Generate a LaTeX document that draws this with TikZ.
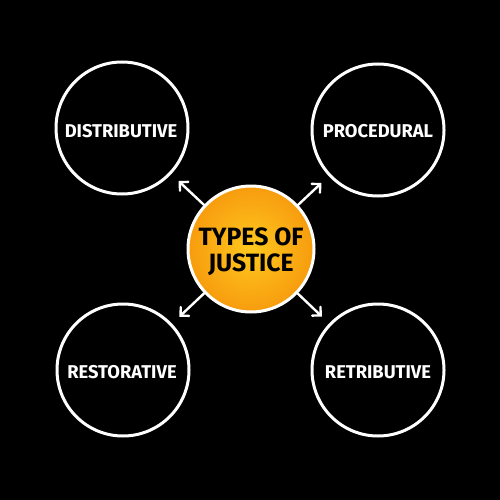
\documentclass[tikz,border=0pt]{standalone}
\usepackage{fontspec}
\setmainfont{Fira Sans}
\usetikzlibrary{arrows.meta,shadings}
\definecolor{orin}{RGB}{255,200,30}
\definecolor{orout}{RGB}{247,156,14}
\newcommand{\lbl}[1]{\scalebox{0.99}[1]{\bfseries #1}}
\tikzset{
  ring/.style={circle, draw=white, line width=3pt, minimum size=132pt, inner sep=0pt},
  ringtext/.style={text=white, inner sep=0pt, font=\fontsize{18.5}{20}\selectfont},
  hub/.style={circle, draw=white, line width=3pt, minimum size=126pt, inner sep=0pt, inner color=orin, outer color=orout},
  hubtext/.style={text=black, align=center, font=\fontsize{25}{26}\selectfont, inner sep=0pt},
  arr/.style={draw=white, line width=2.4pt, line cap=round, -{Straight Barb[length=6pt,width=12pt,line cap=round]}, shorten >=10pt}
}
\begin{document}
\begin{tikzpicture}[x=1pt,y=-1pt]
\fill[black] (0,0) rectangle (500,500);
\useasboundingbox (0,0) rectangle (500,500);
\node[hub] (c) at (251,249) {};
\node[hubtext] (ct) at (251,252) {\lbl{TYPES OF}\\\lbl{JUSTICE}};
\node[ring] (tl) at (122,128) {};
\node[ring] (tr) at (378,130) {};
\node[ring] (bl) at (123,370) {};
\node[ring] (br) at (378,370) {};
\node[ringtext] (tlt) at (121,131) {\lbl{DISTRIBUTIVE}};
\node[ringtext] (trt) at (378,131) {\lbl{PROCEDURAL}};
\node[ringtext] (blt) at (122,372) {\lbl{RESTORATIVE}};
\node[ringtext] (brt) at (378,372) {\lbl{RETRIBUTIVE}};
\draw[arr] (c) -- (tl);
\draw[arr] (c) -- (tr);
\draw[arr] (c) -- (bl);
\draw[arr] (c) -- (br);
\end{tikzpicture}
\end{document}
